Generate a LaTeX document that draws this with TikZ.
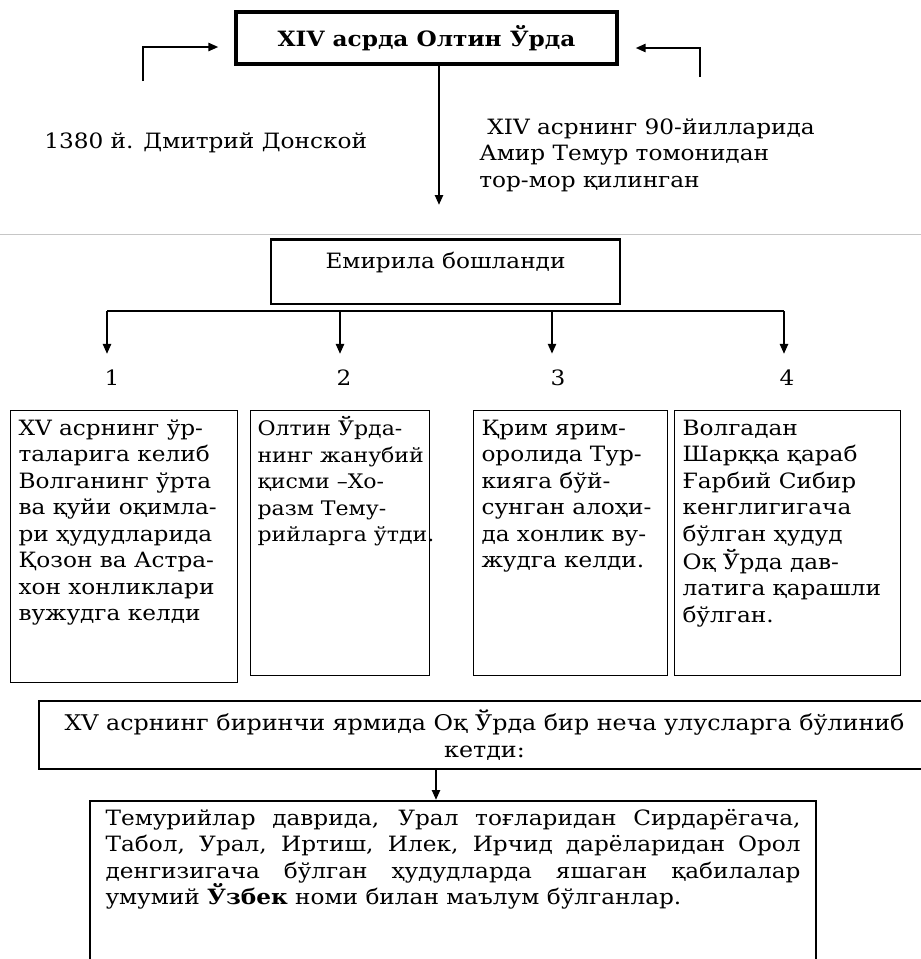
\documentclass[tikz,border=0pt]{standalone}
\usepackage{fontspec}
\setmainfont{DejaVu Serif}[FakeStretch=1.1]
\usetikzlibrary{arrows.meta,positioning}

\newcommand{\stagetext}[3]{\parbox[t][#2][t]{#1}{\begin{tabular}[t]{@{}l@{}}#3\end{tabular}}}

\begin{document}
\begin{tikzpicture}[x=0.2mm, y=-0.2mm,
  every node/.style={font=\fontsize{12}{15.1}\selectfont},
  headbox/.style={draw, line width=1.8pt, minimum width=76.2mm, minimum height=10.4mm,
             font=\fontsize{12}{15.1}\selectfont\bfseries},
  declinebox/.style={draw, line width=1.5pt, minimum width=69.8mm, inner ysep=0pt,
             text height=16.4pt, text depth=20.4pt},
  stagebox/.style={draw, line width=0.6pt, anchor=north west, inner xsep=1.6mm, inner ysep=1.2mm},
  splitbox/.style={draw, line width=1.6pt, minimum width=178.2mm, minimum height=13.6mm,
             align=center, font=\fontsize{12.3}{15.1}\selectfont},
  resultbox/.style={draw, line width=1.2pt, anchor=north west, inner xsep=3.1mm, inner ysep=1.6mm},
  note/.style={inner sep=0pt, align=left},
  flow/.style={-{Triangle[length=2mm, width=1.6mm]}, line width=1.3pt},
]
\useasboundingbox (0,0) rectangle (921,959);
\clip (0,0) rectangle (921,959);

% Golden Horde
\node[headbox] (horde) at (426.5,38) {XIV асрда Олтин Ўрда};

% blows from outside
\coordinate (donskoy) at (143,81);
\coordinate (temur) at (700,77);
\draw[flow] (donskoy) |- ([xshift=-3.2mm, yshift=-1.8mm]horde.west);
\draw[flow] (temur) |- ([xshift=3.4mm, yshift=-2mm]horde.east);
\node[note, anchor=west] (donskoytext) at (44,143) {1380 й. Дмитрий Донской};
\node[note, anchor=north west] (temurtext) at (479,118)
  {\hspace*{1.6mm}XIV асрнинг 90-йилларида\\Амир Темур томонидан\\тор-мор қилинган};

\coordinate (drop) at (439,205);
\draw[flow] (drop |- horde.south) -- (drop);

% page line of the scan
\draw[gray!45, line width=0.5pt] (0,234) -- (921,234);

% Decline
\node[declinebox, anchor=north] (decline) at (445.5,238) {Емирила бошланди};

% four branches
\coordinate (b1) at (107,311);
\coordinate (b2) at (340,311);
\coordinate (b3) at (552,311);
\coordinate (b4) at (784,311);
\draw[line width=1.6pt] (b1) -- (b4);
\foreach \x/\n [count=\i] in {112/1,344/2,558/3,787/4}
  \node (num\i) at (\x,378) {\n};
\foreach \i in {1,...,4}
  \draw[flow, shorten >=2mm] (b\i) -- (b\i |- num\i.north);

\node[stagebox] (stage1) at (10,410) {\stagetext{42.2mm}{52mm}{%
  XV асрнинг ўр-\\таларига келиб\\Волганинг ўрта\\ва қуйи оқимла-\\ри ҳудудларида\\%
  Қозон ва Астра-\\хон хонликлари\\вужудга келди}};
\node[stagebox, inner xsep=1.4mm, font=\fontsize{11.4}{15.1}\selectfont] (stage2) at (250,410)
  {\stagetext{33mm}{50.6mm}{%
  Олтин Ўрда-\\нинг жанубий\\қисми –Хо-\\разм Тему-\\рийларга ўтди.}};
\node[stagebox] (stage3) at (473,410) {\stagetext{35.6mm}{50.6mm}{%
  Қрим ярим-\\оролида Тур-\\кияга бўй-\\сунган алоҳи-\\да хонлик ву-\\жудга келди.}};
\node[stagebox] (stage4) at (674,410) {\stagetext{42mm}{50.6mm}{%
  Волгадан\\Шарққа қараб\\Ғарбий Сибир\\кенглигигача\\бўлган ҳудуд\\%
  Оқ Ўрда дав-\\латига қарашли\\бўлган.}};

% White Horde splits
\node[splitbox] (split) at (484.5,735)
  {XV асрнинг биринчи ярмида Оқ Ўрда бир неча улусларга бўлиниб\\кетди:};

\node[resultbox] (uzbek) at (89,800) {\parbox[t][40mm][t]{139mm}{%
  \makebox[139mm][s]{Темурийлар даврида, Урал тоғларидан Сирдарёгача,}\\
  \makebox[139mm][s]{Табол, Урал, Иртиш, Илек, Ирчид дарёларидан Орол}\\
  \makebox[139mm][s]{денгизигача бўлган ҳудудларда яшаган қабилалар}\\
  умумий \textbf{Ўзбек} номи билан маълум бўлганлар.}};

\coordinate (fork) at (436,0);
\draw[flow] (fork |- split.south) -- (fork |- uzbek.north);

\end{tikzpicture}
\end{document}
